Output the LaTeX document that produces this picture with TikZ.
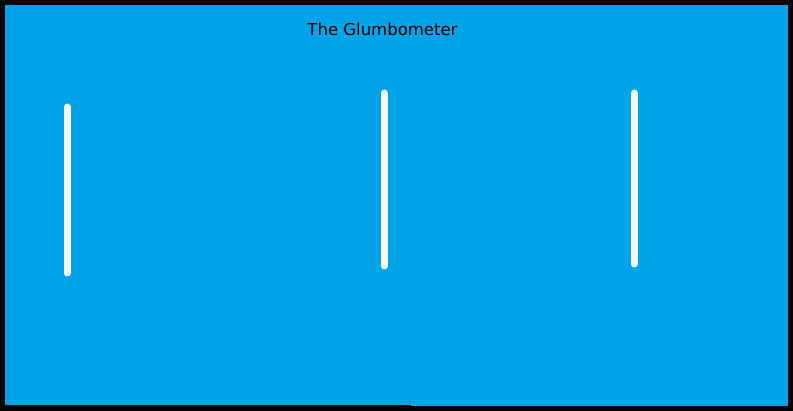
\documentclass[tikz,border=0pt]{standalone}
\usepackage{fontspec}
\setmainfont{DejaVu Sans}
\definecolor{skyblue}{HTML}{00A2E8}
\tikzset{px/.style={x=1pt,y=-1pt},
  bar/.style={draw=white,line width=7pt,line cap=round},
  titletext/.style={font=\fontsize{16.5}{19}\selectfont,text=black,inner sep=0pt}}
\begin{document}
\begin{tikzpicture}[px]
\useasboundingbox (0,0) rectangle (793,411);
\fill[black] (0,0) rectangle (793,411);
\fill[skyblue] (5,5) rectangle (788,405);
\fill[skyblue] (411,400) rectangle (788,406);
\node[titletext] (title) at (382.5,29.5) {The Glumbometer};
\draw[bar] (67,107) -- (67,273);
\draw[bar] (384,93) -- (384,266);
\draw[bar] (634,93) -- (634,264);
\end{tikzpicture}
\end{document}
